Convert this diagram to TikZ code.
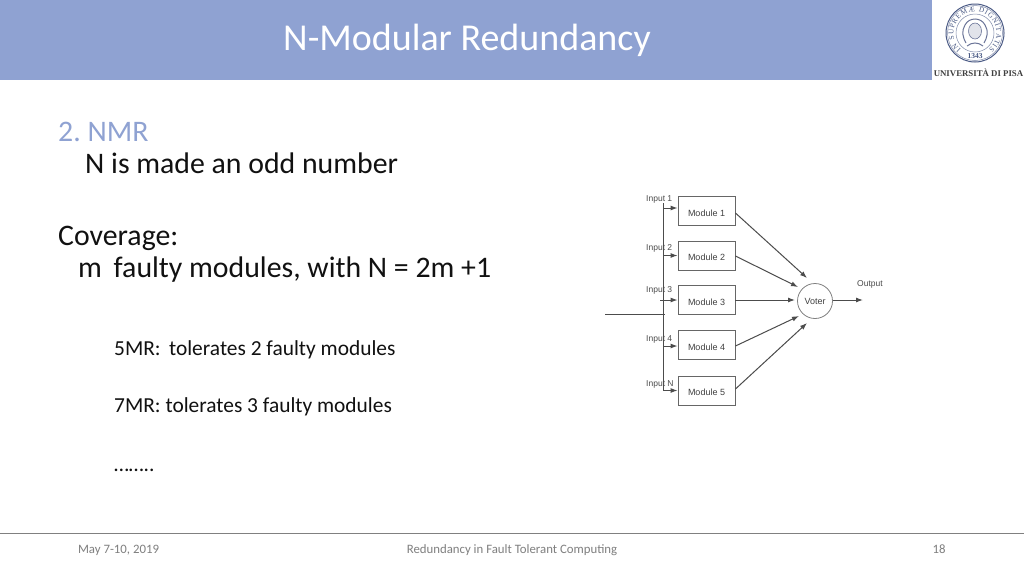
\documentclass[tikz,border=0pt]{standalone}
\usepackage{fontspec}
\setmainfont{Carlito}
\newfontfamily\diag{Liberation Sans}
\newfontfamily\logofont{Liberation Serif}
\usetikzlibrary{arrows.meta,decorations.text}
\definecolor{headblue}{HTML}{8FA2D2}
\definecolor{inktext}{HTML}{111111}
\definecolor{foottext}{HTML}{7F7F7F}
\definecolor{logoblue}{HTML}{4A5A85}
\definecolor{logoink}{HTML}{6A7498}
\frenchspacing
\tikzset{
  px/.style={x=1pt,y=-1pt},
  bodytext/.style={anchor=base west,inner sep=0,text=inktext},
  big/.style={bodytext,font=\fontsize{29.8}{32}\selectfont},
  small/.style={bodytext,font=\fontsize{21.4}{25}\selectfont},
  foot/.style={anchor=base,inner sep=0,text=foottext,font=\fontsize{12.8}{15}\selectfont},
  modbox/.style={draw=black!60,line width=0.9pt,minimum width=57pt,minimum height=29pt,inner sep=0,font=\diag\fontsize{9}{10}\selectfont,text=black!75,text height=10.5pt,text depth=0pt},
  inlabel/.style={anchor=base west,inner sep=0,font=\diag\fontsize{8.5}{10}\selectfont,text=black!70},
  wire/.style={draw=black!70,line width=1pt},
  flow/.style={wire,-{Latex[length=7pt,width=5pt]}},
}
\begin{document}
\begin{tikzpicture}[px]
\useasboundingbox (0,0) rectangle (1024,576);
\fill[white] (0,0) rectangle (1024,576);
\fill[headblue] (0,0) rectangle (932,80);
\node[anchor=base,inner sep=0,text=white,font=\fontsize{38}{40}\selectfont] (title) at (467,50) {N-Modular Redundancy};

% logo
\coordinate (sealc) at (975,33);
\draw[logoblue,line width=1pt] (sealc) circle[radius=29pt];
\draw[logoblue!70,line width=0.5pt] (sealc) circle[radius=27.5pt];
\draw[logoblue!70,line width=0.5pt] (sealc) circle[radius=19pt];
\path[postaction={decorate,decoration={text along path,text align=fit to path,
  text={|\logofont\fontsize{7.2}{8}\selectfont\color{logoblue}|IN SUPREMÆ DIGNITATIS}}}]
  (961.18,49.47) arc[start angle=230,end angle=-50,radius=21.5pt];
\node[inner sep=0,text=logoblue,font=\logofont\bfseries\fontsize{7.5}{8}\selectfont] (year) at (975,56) {1343};
\draw[logoink,line width=0.6pt,fill=logoink!20] (sealc) ++(0,-2) ellipse[x radius=6.5pt,y radius=8pt];
\draw[logoink,line width=1pt] (965,25) .. controls (969,17) and (981,17) .. (985,25);
\draw[logoink,line width=1pt] (965,25) .. controls (961,31) and (963,38) .. (966,43);
\draw[logoink,line width=1pt] (985,25) .. controls (989,31) and (987,38) .. (984,43);
\draw[logoink,line width=1pt] (967,46) .. controls (972,42) and (978,42) .. (983,46);
\node[inner sep=0,text=black!75,font=\logofont\bfseries\fontsize{8.8}{9}\selectfont] (unipi) at (978.5,73) {UNIVERSITÀ DI PISA};

% body
\node[big,text=headblue] (t1) at (58,141) {2. NMR};
\node[big] (t2) at (85,173) {N is made an odd number};
\node[big] (t3) at (58,245) {Coverage:};
\node[big] (t4) at (78,277) {m\, faulty modules, with N = 2m +1};
\node[small] (t5) at (114,355) {5MR:\ \,tolerates 2 faulty modules};
\node[small] (t6) at (114,412) {7MR: tolerates 3 faulty modules};
\node[small] (t7) at (114,471) {……..};

% diagram
\node[modbox] (m1) at (706.5,211) {Module 1};
\node[modbox] (m2) at (706.5,255.5) {Module 2};
\node[modbox] (m3) at (706.5,300) {Module 3};
\node[modbox] (m4) at (706.5,345) {Module 4};
\node[modbox] (m5) at (706.5,390.5) {Module 5};
\node[draw=black!50,line width=0.8pt,circle,minimum size=35pt,inner sep=0,font=\diag\fontsize{9}{10}\selectfont,text=black!75] (voter) at (815,301) {Voter};
\node[inlabel] (i1) at (646,201) {Input 1};
\node[inlabel] (i2) at (646,250) {Input 2};
\node[inlabel] (i3) at (646,292) {Input 3};
\node[inlabel] (i4) at (646,341) {Input 4};
\node[inlabel] (i5) at (646,386) {Input N};
\node[inlabel] (out) at (857,286) {Output};

\coordinate (bustop) at (663,203);
\coordinate (busbot) at (663,391);
\coordinate (feed) at (605,314);
\coordinate (feedend) at (665,314);
\coordinate (b1) at (663,208);
\coordinate (b2) at (663,255.5);
\coordinate (b3) at (660,300);
\coordinate (b4) at (663,346);
\coordinate (b5) at (663,390.5);
\coordinate (outend) at (863,300);
\draw[wire] (bustop) -- (busbot);
\draw[wire] (feed) -- (feedend);
\draw[flow] (b1) -- (m1.west |- b1);
\draw[flow] (b2) -- (m2.west);
\draw[flow] (b3) -- (m3.west);
\draw[flow] (b4) -- (m4.west |- b4);
\draw[flow] (b5) -- (m5.west);
\coordinate (s1) at (735,213);
\coordinate (e1) at (807,278);
\coordinate (s2) at (735,256);
\coordinate (e2) at (798,287);
\coordinate (e3) at (795,300);
\coordinate (s4) at (736,346);
\coordinate (e4) at (799,316);
\coordinate (s5) at (736,389);
\coordinate (e5) at (807,323);
\draw[flow] (m1.east |- s1) -- (e1);
\draw[flow] (m2.east |- s2) -- (e2);
\draw[flow] (m3.east) -- (e3);
\draw[flow] (m4.east |- s4) -- (e4);
\draw[flow] (m5.east |- s5) -- (e5);
\draw[flow] (voter.east |- outend) -- (outend);

% footer
\draw[black!50,line width=0.7pt] (0,533) -- (1024,533);
\node[foot] (f1) at (118.5,553) {May 7-10, 2019};
\node[foot] (f2) at (512,553) {Redundancy in Fault Tolerant Computing};
\node[foot] (f3) at (939,553) {18};
\end{tikzpicture}
\end{document}
